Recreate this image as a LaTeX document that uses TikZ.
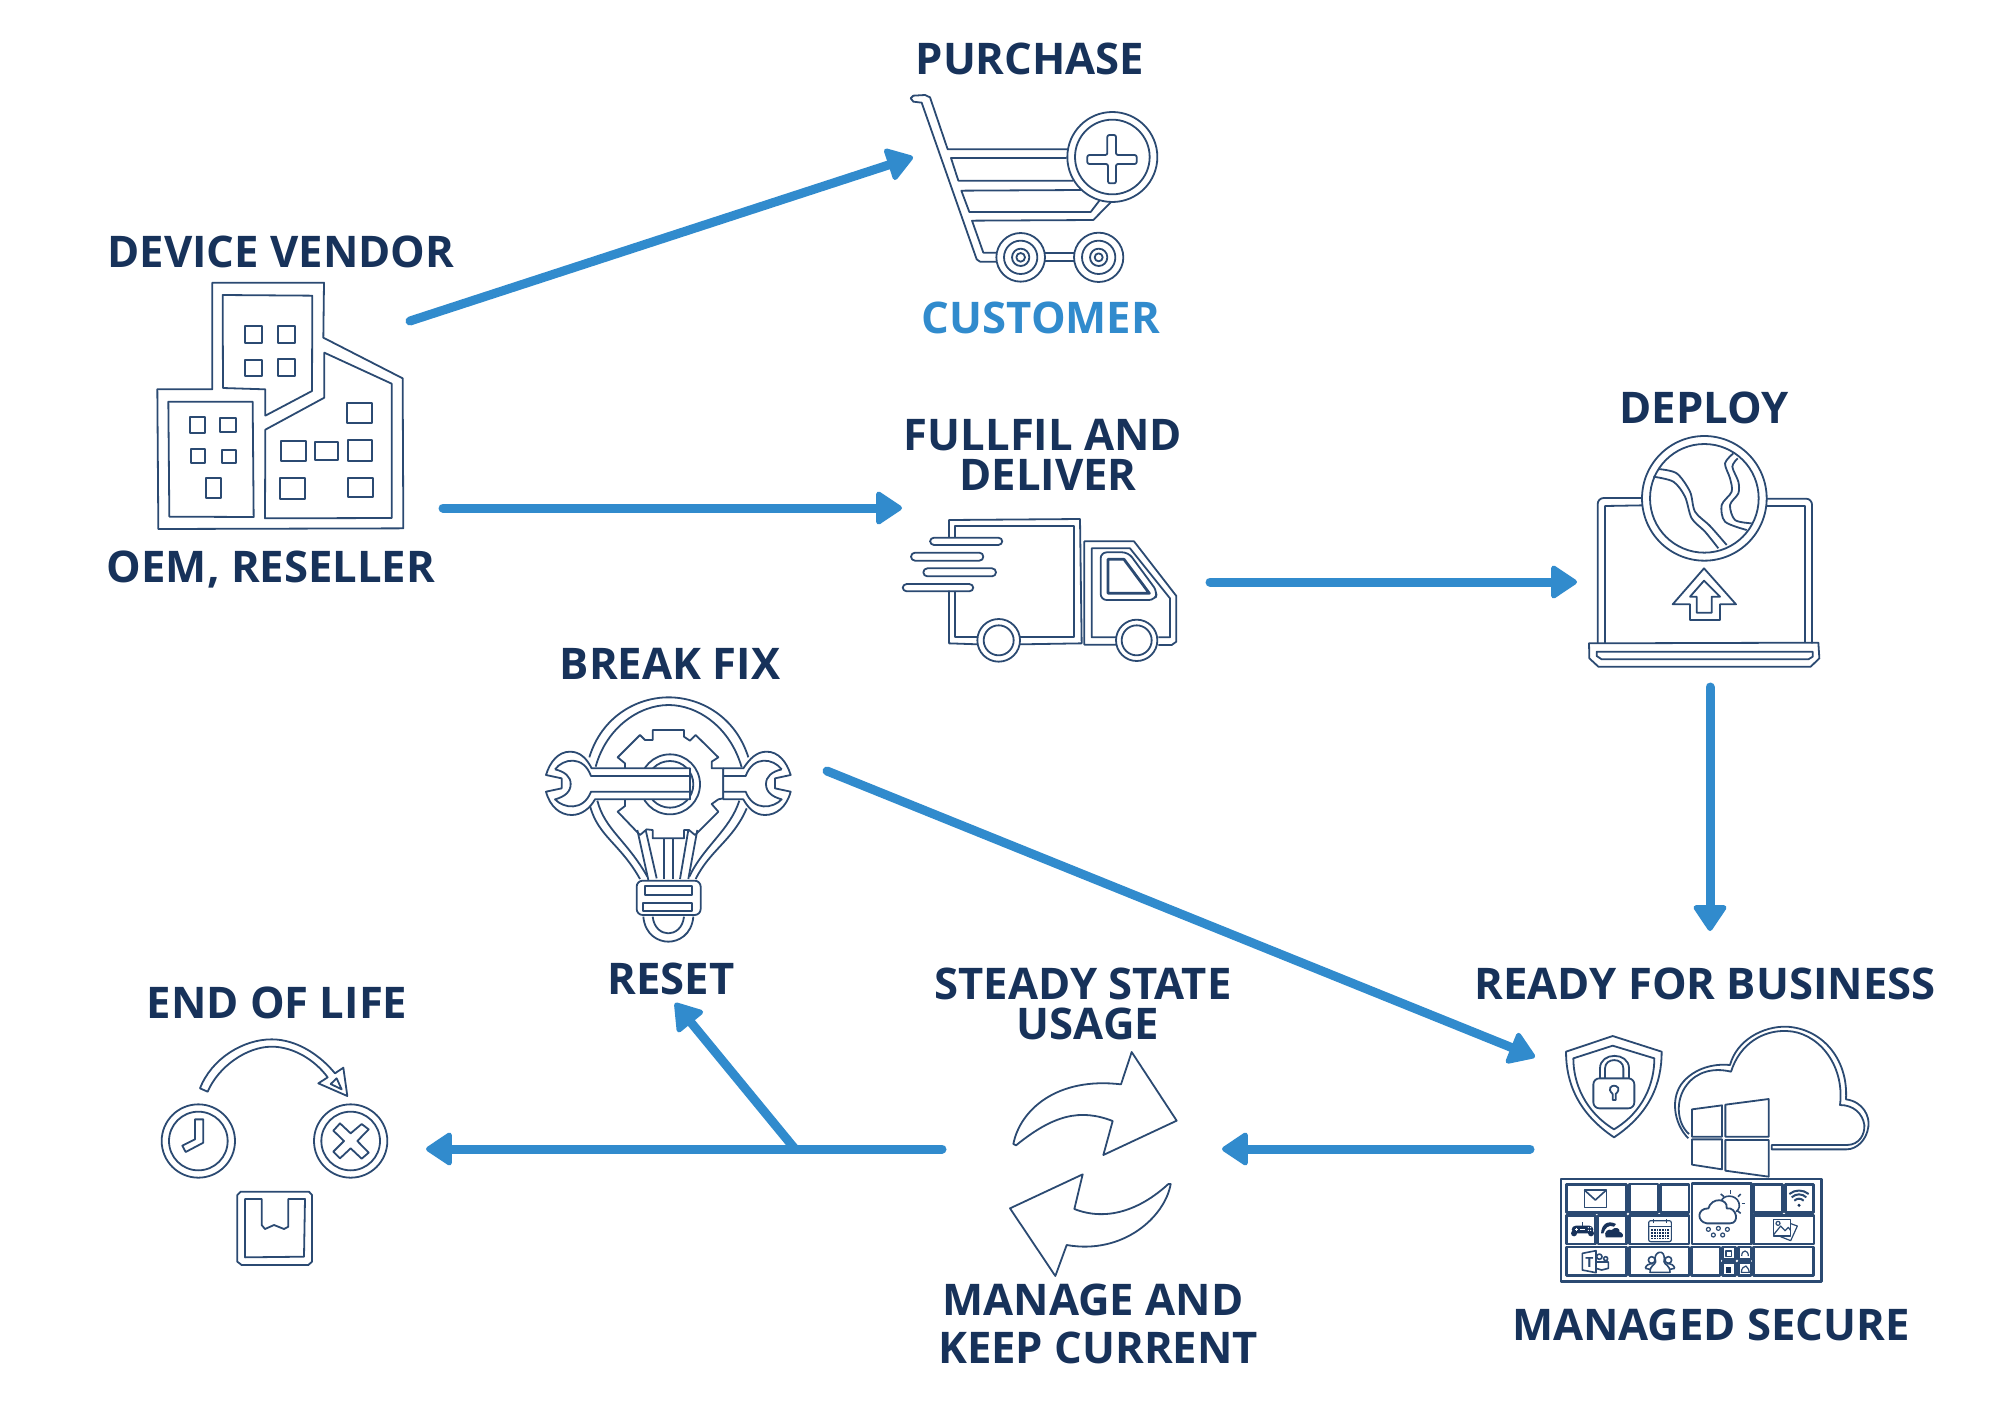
\documentclass[tikz,border=0pt]{standalone}
\usepackage{fontspec}
\setmainfont{Open Sans}
\usetikzlibrary{arrows.meta}
\definecolor{navy}{HTML}{17325A}
\definecolor{inkblue}{HTML}{2B4A72}
\definecolor{flowblue}{HTML}{318BCD}
\tikzset{
  lbl/.style={font=\fontsize{21.8}{24}\bfseries, text=navy, inner sep=0pt, text height=15.5pt, text depth=0pt},
  flow/.style={draw=flowblue, line width=4.5pt, line cap=round, -{Triangle[length=14pt,width=18pt,line width=2.5pt,round]}},
  ln/.style={draw=inkblue, line width=0.9pt, line join=round},
  ic/.style={ln, fill=white},
  thin ln/.style={ln, line width=0.6pt},
  zm/.style={shift={#1}, scale=1/3},
}
\begin{document}
\begin{tikzpicture}[x=0.5pt,y=-0.5pt]
  \useasboundingbox (0,0) rectangle (2000,1414);

  % labels
  \node[lbl] (vendor) at (281,252) {DEVICE VENDOR};
  \node[lbl] (oem) at (271,567) {OEM, RESELLER};
  \node[lbl] (purchase) at (1030,59) {PURCHASE};
  \node[lbl, text=flowblue] (customer) at (1041,318) {CUSTOMER};
  \node[lbl] (fulfil) at (1043,435) {FULLFIL AND};
  \node[lbl] (deliver) at (1048,475) {DELIVER};
  \node[lbl] (deploy) at (1704,408) {DEPLOY};
  \node[lbl] (breakfix) at (670,664) {BREAK FIX};
  \node[lbl] (reset) at (671,979) {RESET};
  \node[lbl] (eol) at (277,1003) {END OF LIFE};
  \node[lbl] (steady) at (1083,984) {STEADY STATE};
  \node[lbl] (usage) at (1088,1024) {USAGE};
  \node[lbl] (ready) at (1705,984) {READY FOR BUSINESS};
  \node[lbl] (secure) at (1711,1325) {MANAGED SECURE};
  \node[lbl] (manage) at (1093,1300) {MANAGE AND};
  \node[lbl] (keep) at (1098,1348) {KEEP CURRENT};

  % connector ends
  \coordinate (vendorA) at (410,321);
  \coordinate (vendorB) at (443,508);
  \coordinate (cartIn) at (913,157);
  \coordinate (truckIn) at (902,508);
  \coordinate (truckOut) at (1210,582);
  \coordinate (laptopIn) at (1577,582);
  \coordinate (laptopOut) at (1710,687);
  \coordinate (readyIn) at (1710,931);
  \coordinate (bulbOut) at (827,771);
  \coordinate (secureIn) at (1535,1057);
  \coordinate (secureOut) at (1530,1149);
  \coordinate (steadyIn) at (1222,1149);
  \coordinate (steadyOut) at (942,1149);
  \coordinate (eolIn) at (426,1149);
  \coordinate (branch) at (795,1149);
  \coordinate (resetIn) at (675,1003);

  \draw[flow] (vendorA) -- (cartIn);
  \draw[flow] (vendorB) -- (truckIn);
  \draw[flow] (truckOut) -- (laptopIn);
  \draw[flow] (laptopOut) -- (readyIn);
  \draw[flow] (bulbOut) -- (secureIn);
  \draw[flow] (secureOut) -- (steadyIn);
  \draw[flow] (steadyOut) -- (eolIn);
  \draw[flow] (branch) -- (resetIn);

  % building
  \begin{scope}[zm={(100,210)}]
    \draw[ln] (337,218) -- (672,218) -- (670,383) -- (908,505) -- (910,955) -- (175,957) -- (172,538) -- (337,538) -- cycle;
    \draw[ln] (368,255) -- (637,257) -- (636,543) -- (496,617) -- (496,538) -- (369,534) -- cycle;
    \draw[ln] (205,575) -- (458,575) -- (461,921) -- (208,920) -- cycle;
    \draw[ln] (673,428) -- (875,521) -- (875,924) -- (495,925) -- (496,659) -- (673,563) -- cycle;
    \foreach \xa/\ya/\xb/\yb in {434/348/487/399,535/349/585/398,436/450/487/498,535/448/586/497,
      270/622/314/669,361/624/407/667,272/718/314/760,366/719/409/760,318/805/363/864,
      741/578/816/638,542/692/618/753,644/695/715/751,744/689/817/752,539/804/614/866,743/803/818/862}
      \draw[ln] (\xa,\ya) rectangle (\xb,\yb);
  \end{scope}

  % cart
  \begin{scope}[zm={(880,20)}]
    \draw[ln] (565,388) -- (203,388) -- (150,232) -- (135,225) -- (100,227) -- (92,235) -- (100,245) -- (125,248) -- (290,718) -- (300,725) -- (350,725);
    \draw[ln] (560,414) -- (213,414) -- (235,482) -- (580,482);
    \draw[ln] (605,510) -- (244,512) -- (268,576) -- (632,576) -- (658,542);
    \draw[ln] (350,698) -- (310,698) -- (276,602) -- (640,600) -- (692,547);
    \draw[ln] (495,698) -- (582,698) (495,724) -- (582,724);
    \foreach \r in {73,50,26,13} \draw[ln] (422,712) circle (\r);
    \foreach \r in {74,50,26,12} \draw[ln] (656,712) circle (\r);
    \draw[ic] (697,411) circle (135);
    \draw[ln] (697,411) circle (112);
    \draw[ln, rounded corners=1pt] (682,345) -- (708,345) -- (708,405) -- (770,405) -- (770,432) -- (708,432) -- (708,490) -- (684,490) -- (684,432) -- (622,432) -- (622,405) -- (682,405) -- cycle;
  \end{scope}

  % truck
  \begin{scope}[zm={(880,500)}]
    \draw[ln] (207,112) -- (207,60) -- (600,57) -- (605,430) -- (420,433);
    \draw[ln] (207,272) -- (207,430) -- (295,433);
    \draw[ln] (226,112) -- (226,78) -- (583,78) -- (583,412) -- (420,412);
    \draw[ln] (226,272) -- (226,412) -- (295,412);
    \foreach \xa/\ya/\xb/\yb in {150/113/367/135,93/158/310/182,130/205/348/229,68/252/280/274}
      \draw[ln, rounded corners=2pt] (\xa,\ya) rectangle (\xb,\yb);
    \draw[ln] (710,434) -- (613,434) -- (613,124) -- (762,124) -- (889,288) -- (889,425) -- (875,435) -- (835,435);
    \draw[ln] (710,412) -- (635,412) -- (635,145) -- (750,145) -- (870,295) -- (870,412) -- (835,412);
    \draw[ln, rounded corners=3pt] (662,157) -- (745,157) -- (832,275) -- (825,300) -- (662,300) -- cycle;
    \draw[ln, line width=1.4pt] (684,178) -- (732,178) -- (808,280) -- (684,280) -- cycle;
    \foreach \cx/\ra in {356/64,770/62} {
      \draw[ic] (\cx,421) circle (\ra);
      \draw[ln] (\cx,421) circle (45);
    }
  \end{scope}

  % laptop
  \begin{scope}[zm={(1570,420)}]
    \draw[ln, rounded corners=3pt] (218,234) -- (83,234) -- (83,670);
    \draw[ln, rounded corners=3pt] (590,236) -- (726,236) -- (726,670);
    \draw[ln] (218,256) -- (105,258) -- (105,670);
    \draw[ln] (590,257) -- (705,257) -- (705,670);
    \draw[ln] (57,670) -- (745,668) -- (748,715) -- (722,740) -- (85,740) -- (58,715) -- cycle;
    \draw[ln] (80,695) -- (728,695) -- (728,710) -- (715,718) -- (95,718) -- (80,708) -- cycle;
    \draw[ic] (403,235) circle (187);
    \draw[ln] (403,235) circle (163);
    \draw[ln] plot[smooth] coordinates {(265,147) (320,160) (360,215) (375,275) (420,318) (470,375)};
    \draw[ln] plot[smooth] coordinates {(250,170) (310,185) (345,230) (365,295) (405,335) (445,385)};
    \draw[ln] plot[smooth] coordinates {(490,100) (465,130) (480,175) (485,215) (455,255) (465,305) (530,330)};
    \draw[ln] plot[smooth] coordinates {(503,115) (487,140) (505,185) (505,220) (480,255) (495,300) (545,310)};
    \draw[ln] (402,445) -- (498,553) -- (450,553) -- (450,600) -- (360,600) -- (360,553) -- (308,553) -- cycle;
    \draw[ln] (402,482) -- (450,530) -- (425,530) -- (425,578) -- (380,578) -- (380,530) -- (360,530) -- cycle;
  \end{scope}

  % bulb and wrenches
  \begin{scope}[zm={(530,680)}]
    \draw[ln] (178,232) .. controls (215,110) and (320,52) .. (416,52) .. controls (512,52) and (617,110) .. (655,232);
    \draw[ln] (197,260) .. controls (230,140) and (330,75) .. (416,75) .. controls (502,75) and (600,140) .. (635,262);
    \draw[ln] (180,378) .. controls (205,470) and (270,490) .. (330,597);
    \draw[ln] (202,362) .. controls (225,450) and (290,480) .. (352,590);
    \draw[ln] (650,385) .. controls (610,480) and (540,510) .. (497,597);
    \draw[ln] (628,362) .. controls (600,450) and (520,500) .. (478,590);
    \draw[ln] (285,265) -- (285,250) -- (263,232) -- (330,165) -- (345,180) -- (368,180) -- (368,150) -- (462,150) -- (462,170) -- (480,182) -- (497,165) -- (565,232) -- (545,245) -- (545,265) -- (580,265) -- (580,355) -- (565,358) -- (545,372) -- (565,395) -- (495,465) -- (477,450) -- (462,450) -- (462,475) -- (368,475) -- (368,450) -- (350,448) -- (330,465) -- (263,395) -- (285,378) -- (285,358);
    \draw[ln] (420,313) circle (90);
    \draw[ln] (420,313) circle (70);
    \foreach \xa/\ya/\xb/\yb in {322/450/355/600,347/450/380/595,403/475/403/597,428/475/428/597,475/450/450/597,502/450/475/597}
      \draw[ln] (\xa,\ya) -- (\xb,\yb);
    % left wrench over the ring
    \draw[ic] (48,285) -- (95,295) -- (95,325) -- (48,335) .. controls (60,380) and (90,405) .. (125,405) .. controls (155,405) and (180,385) .. (195,358) -- (480,358) -- (480,265) -- (185,265) .. controls (170,235) and (150,215) .. (120,215) .. controls (85,215) and (60,245) .. (48,285) -- cycle;
    \draw[ln] (75,268) .. controls (105,275) and (122,290) .. (122,312) .. controls (122,335) and (105,350) .. (75,358) .. controls (100,385) and (160,395) .. (183,335) -- (480,335);
    \draw[ln] (75,268) .. controls (100,235) and (160,225) .. (183,288) -- (480,288);
    % right wrench
    \draw[ic] (782,285) -- (735,295) -- (735,325) -- (782,335) .. controls (770,380) and (740,405) .. (705,405) .. controls (675,405) and (655,385) .. (640,358) -- (580,358) -- (580,265) -- (640,265) .. controls (660,235) and (680,215) .. (710,215) .. controls (745,215) and (770,245) .. (782,285) -- cycle;
    \draw[ln] (755,268) .. controls (725,275) and (708,290) .. (708,312) .. controls (708,335) and (725,350) .. (755,358) .. controls (730,385) and (670,395) .. (647,335) -- (580,335);
    \draw[ln] (755,268) .. controls (730,235) and (670,225) .. (647,288) -- (580,288);
    % base
    \draw[ln, rounded corners=3pt] (320,602) rectangle (512,705);
    \draw[ln] (344,618) rectangle (485,645);
    \draw[ln] (340,668) rectangle (485,693);
    \draw[ln] (340,710) .. controls (345,765) and (385,785) .. (415,785) .. controls (445,785) and (485,765) .. (490,710);
    \draw[ln] (368,710) .. controls (372,745) and (395,760) .. (415,760) .. controls (435,760) and (458,745) .. (462,710);
  \end{scope}

  % refresh arrows
  \begin{scope}[zm={(990,1040)}]
    \draw[ln] (70,312) .. controls (90,210) and (200,110) .. (393,133) -- (425,36) -- (560,242) -- (340,345) -- (368,243) .. controls (270,205) and (190,225) .. (78,316) -- cycle;
    \draw[ln] (542,432) .. controls (525,530) and (400,645) .. (230,615) -- (196,708) -- (60,505) -- (278,403) -- (253,507) .. controls (350,545) and (450,510) .. (535,432) -- cycle;
  \end{scope}

  % end of life
  \begin{scope}[zm={(140,1030)}]
    \draw[ln] (180,175) .. controls (215,85) and (310,28) .. (395,28) .. controls (470,28) and (540,75) .. (585,130) -- (610,113) -- (622,198) -- (535,160) -- (563,142) .. controls (525,90) and (460,50) .. (395,50) .. controls (320,50) and (235,110) .. (203,185) -- cycle;
    \draw[ln] (590,145) -- (605,178) -- (572,162) -- cycle;
    \foreach \cx in {175,632} {
      \draw[ln] (\cx,333) circle (110);
      \draw[ln] (\cx,333) circle (88);
    }
    \draw[ln] (165,268) -- (190,268) -- (190,338) -- (137,366) -- (127,347) -- (165,328) -- cycle;
    \draw[ln] (600,280) -- (632,310) -- (665,282) -- (686,298) -- (652,333) -- (686,368) -- (665,386) -- (632,355) -- (600,385) -- (580,365) -- (612,333) -- (580,302) -- cycle;
    \draw[ln] (292,495) -- (302,485) -- (507,485) -- (516,495) -- (516,695) -- (505,705) -- (305,705) -- (292,695) -- cycle;
    \draw[ln] (315,507) -- (365,507) -- (365,585) -- (375,597) -- (402,585) -- (432,597) -- (445,590) -- (445,507) -- (495,507) -- (492,680) -- (315,682) -- cycle;
  \end{scope}

  % shield, cloud, tiles
  \begin{scope}[zm={(1540,1020)}]
    \draw[ln] (218,48) -- (365,95) .. controls (365,190) and (330,280) .. (222,352) .. controls (115,280) and (78,190) .. (78,95) -- cycle;
    \draw[ln] (218,77) -- (343,115) .. controls (343,190) and (310,275) .. (222,328) .. controls (135,275) and (100,190) .. (100,115) -- cycle;
    \draw[ln, rounded corners=3pt] (160,175) rectangle (283,265);
    \draw[ln] (180,175) -- (180,145) .. controls (180,95) and (267,95) .. (267,145) -- (267,175);
    \draw[ln] (195,175) -- (195,145) .. controls (195,112) and (250,112) .. (250,145) -- (250,175);
    \draw[ln] (218,240) -- (218,222) .. controls (200,205) and (215,197) .. (222,197) .. controls (230,197) and (245,205) .. (227,222) -- (227,240) -- cycle;
    \draw[ln] (445,355) .. controls (400,310) and (390,230) .. (430,185) .. controls (465,145) and (520,130) .. (570,135) .. controls (590,60) and (670,18) .. (740,20) .. controls (840,25) and (925,110) .. (918,238) .. controls (970,245) and (990,290) .. (985,320) .. controls (980,360) and (950,388) .. (920,388) -- (695,388) -- (695,375) -- (920,375) .. controls (960,375) and (975,340) .. (973,315) .. controls (968,280) and (940,255) .. (900,255) .. controls (915,130) and (830,35) .. (740,33) .. controls (670,30) and (600,70) .. (573,155) .. controls (520,142) and (470,155) .. (440,195) .. controls (405,240) and (410,310) .. (447,342);
    \draw[ic] (456,268) -- (546,256) -- (546,350) -- (456,350) -- cycle;
    \draw[ic] (556,254) -- (686,237) -- (686,350) -- (556,350) -- cycle;
    \draw[ic] (456,358) -- (546,358) -- (546,448) -- (456,434) -- cycle;
    \draw[ic] (556,360) -- (686,360) -- (686,470) -- (556,452) -- cycle;
    \draw[ln, line width=1.3pt] (63,477) rectangle (845,785);
    \foreach \xa/\ya/\xb/\yb in {80/494/260/578,268/492/354/578,362/494/447/578,456/491/634/672,640/494/728/578,736/494/820/578,
      80/587/166/672,174/587/260/672,268/587/447/672,640/587/822/672,
      80/681/260/767,268/681/447/767,454/681/540/767,548/681/586/719,595/681/633/719,548/727/586/767,595/727/633/767,640/681/820/767}
      \draw[ln, line width=1.3pt] (\xa,\ya) rectangle (\xb,\yb);
    % mail
    \draw[ln, line width=0.8pt] (133,510) rectangle (199,562);
    \draw[ln, line width=0.8pt] (133,510) -- (166,540) -- (199,510);
    % wifi
    \fill[navy] (777,556) circle (5);
    \draw[ln, line width=1pt] (763,542) .. controls (772,534) and (782,534) .. (791,542);
    \draw[ln, line width=1pt] (755,532) .. controls (768,520) and (786,520) .. (799,532);
    \draw[ln, line width=1pt] (748,522) .. controls (765,508) and (789,508) .. (806,522);
    % weather
    \draw[ln, line width=0.8pt] (545,540) .. controls (555,520) and (600,525) .. (598,560) .. controls (597,568) and (592,572) .. (588,575);
    \foreach \xa/\ya/\xb/\yb in {572/510/572/522,542/522/552/530,602/522/594/530,605/550/615/550,592/572/602/580}
      \draw[ln, line width=0.8pt] (\xa,\ya) -- (\xb,\yb);
    \draw[ln, line width=0.9pt, fill=white] (500,610) .. controls (470,605) and (470,565) .. (505,565) .. controls (515,530) and (565,535) .. (560,565) .. controls (590,560) and (600,610) .. (570,610) -- cycle;
    \foreach \cx/\cy in {505/628,535/625,562/628,520/645,548/645}
      \draw[thin ln] (\cx,\cy) circle (6);
    % controller and cloud
    \fill[navy, rounded corners=2pt] (95,617) rectangle (160,640);
    \fill[navy] (102,640) circle (9) (153,640) circle (9);
    \draw[ln, line width=0.6pt] (127,617) -- (127,605);
    \draw[white, line width=0.5pt] (105,628) -- (113,628) (109,624) -- (109,632) (120,628) -- (135,628);
    \foreach \cx/\cy in {145/623,152/623,145/631,152/631}
      \fill[white] (\cx,\cy) circle (2);
    \fill[navy] (197,652) .. controls (190,635) and (205,625) .. (215,630) .. controls (225,618) and (242,625) .. (238,635) .. controls (250,638) and (252,650) .. (245,652) -- cycle;
    \fill[navy] (183,640) .. controls (185,610) and (205,600) .. (228,612) -- (222,620) .. controls (205,612) and (195,625) .. (190,640) -- cycle;
    % calendar
    \draw[thin ln, rounded corners=1pt] (326,602) rectangle (394,665);
    \draw[thin ln] (340,597) -- (340,608) (380,597) -- (380,608) (326,620) -- (394,620);
    \fill[navy] (332,627) rectangle (388,658);
    \foreach \cx in {340,348,356,364,372,380}
      \draw[white, line width=0.3pt] (\cx,627) -- (\cx,658);
    \foreach \cy in {635,643,651}
      \draw[white, line width=0.3pt] (332,\cy) -- (388,\cy);
    % photos
    \draw[thin ln] (730,603) -- (772,618) -- (752,662) -- (722,650);
    \draw[ic, line width=0.6pt] (700,598) rectangle (752,648);
    \draw[thin ln] (700,645) -- (722,618) -- (735,632) -- (745,622) -- (752,632);
    \draw[thin ln] (714,610) circle (6);
    % teams
    \draw[ln, line width=0.8pt] (127,700) -- (168,692) -- (168,758) -- (127,750) -- cycle;
    \node[font=\fontsize{7}{8}\bfseries, text=inkblue, inner sep=0pt] (teams) at (148,726) {T};
    \draw[ln, line width=0.8pt] (178,710) circle (8) (197,716) circle (6);
    \draw[ln, line width=0.8pt] (168,726) -- (205,726) -- (205,745) -- (185,750) -- (168,745);
    % people
    \draw[ic, line width=0.8pt] (335,720) circle (10) (385,720) circle (10);
    \draw[ln, line width=0.8pt] (316,745) .. controls (318,735) and (325,732) .. (340,730) (316,745) -- (330,748);
    \draw[ln, line width=0.8pt] (404,745) .. controls (402,735) and (395,732) .. (380,730) (404,745) -- (390,748);
    \draw[ic, line width=0.8pt] (330,757) .. controls (330,735) and (345,735) .. (347,725) .. controls (335,695) and (380,680) .. (372,725) .. controls (374,735) and (390,735) .. (390,757) -- cycle;
    % small tiles
    \draw[thin ln] (558,693) rectangle (574,710);
    \draw[thin ln] (605,708) .. controls (605,688) and (625,688) .. (625,708);
    \fill[navy] (558,742) rectangle (574,758);
    \draw[thin ln] (604,757) .. controls (604,745) and (612,738) .. (618,738) .. controls (622,745) and (630,750) .. (628,757) -- cycle;
  \end{scope}
\end{tikzpicture}
\end{document}
